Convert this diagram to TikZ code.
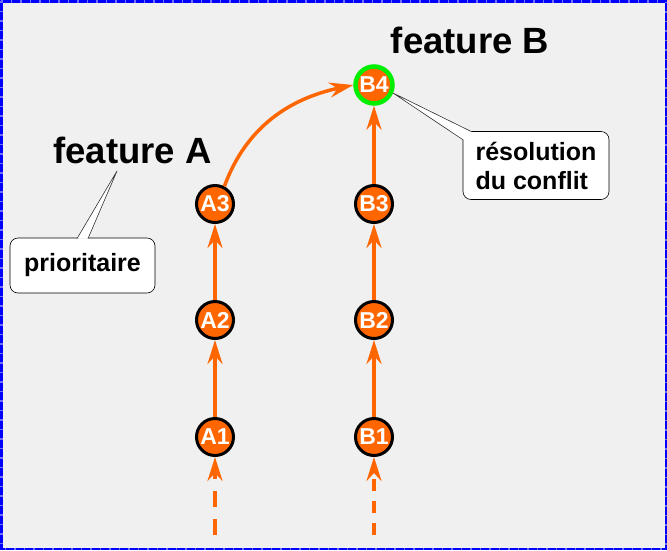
\documentclass[tikz,border=0pt]{standalone}
\usepackage{fontspec}
\setmainfont{Liberation Sans}
\usetikzlibrary{arrows.meta}
\definecolor{bg}{HTML}{F0F0F0}
\definecolor{org}{HTML}{FF6600}
\definecolor{grn}{HTML}{00EE00}
\definecolor{frm}{HTML}{0000FF}
\definecolor{frml}{HTML}{7070FF}
\tikzset{
  commit/.style={circle, fill=org, draw=black, line width=3pt, minimum size=37pt, inner sep=0pt,
    text=white, font=\fontsize{23}{23}\selectfont\bfseries},
  merged/.style={commit, draw=grn, line width=4.5pt},
  link/.style={draw=org, line width=3.5pt, -{Stealth[length=24pt,width=15pt,inset=8pt]}},
  oldlink/.style={link, dash pattern=on 16pt off 12pt},
  oldlinkb/.style={link, dash pattern=on 12pt off 10pt},
  title/.style={font=\fontsize{36.5}{36.5}\selectfont\bfseries, inner sep=0pt},
  note/.style={draw=black, line width=0.6pt, fill=white, rounded corners=8pt, align=left,
    font=\fontsize{25}{29}\selectfont\bfseries},
  wedge/.style={draw=black!80, line width=0.6pt, fill=white},
}
\begin{document}
\begin{tikzpicture}[x=1pt,y=-1pt]
\fill[bg] (0,0) rectangle (667,550);
\useasboundingbox (0,0) rectangle (667,550);
\draw[frm, line width=2.5pt] (1.25,1.25) rectangle (665.75,548.75);
\draw[frml, line width=2.5pt, dash pattern=on 1.5pt off 8pt] (1.25,1.25) rectangle (665.75,548.75);

% commits
\node[commit] (a1) at (215,437) {A1};
\node[commit] (a2) at (215,320) {A2};
\node[commit] (a3) at (215,204) {A3};
\node[commit] (b1) at (374,437) {B1};
\node[commit] (b2) at (374,320) {B2};
\node[commit] (b3) at (374,204) {B3};
\node[merged] (b4) at (374,85) {B4};

\coordinate (a0) at (215,535);
\coordinate (b0) at (374,535);

% links
\draw[oldlink] (a0) -- (a1);
\draw[oldlinkb] (b0) -- (b1);
\draw[link] (a1) -- (a2);
\draw[link] (a2) -- (a3);
\draw[link] (b1) -- (b2);
\draw[link] (b2) -- (b3);
\draw[link] (b3) -- (b4);
\draw[link] (a3.62) to[out=70,in=192] (b4.west);

% titles
\node[title, anchor=base] (fa) at (132.5,163) {feature A};
\node[title, anchor=base] (fb) at (470,53) {feature B};

% callouts
\coordinate (pa) at (117,171);
\coordinate (pb) at (393,93);
\node[note, minimum width=145pt, minimum height=55pt] (nA) at (82.5,265.5) {prioritaire};
\node[note, minimum width=146pt, minimum height=68pt] (nB) at (536,165.5) {résolution\\du conflit};
\draw[wedge] (77,238.6) -- (pa) -- (88,238.6);
\fill[white] (77.6,238.7) -- (87.4,238.7) -- (86,237.5) -- (78.6,237.5) -- cycle;
\draw[wedge] (463.3,140) -- (pb) -- (472,131.9);
\fill[white] (463.9,140.5) -- (464.6,134.4) -- (468,132.4) -- (471.6,132.4) -- (469,134) -- cycle;
\end{tikzpicture}
\end{document}
